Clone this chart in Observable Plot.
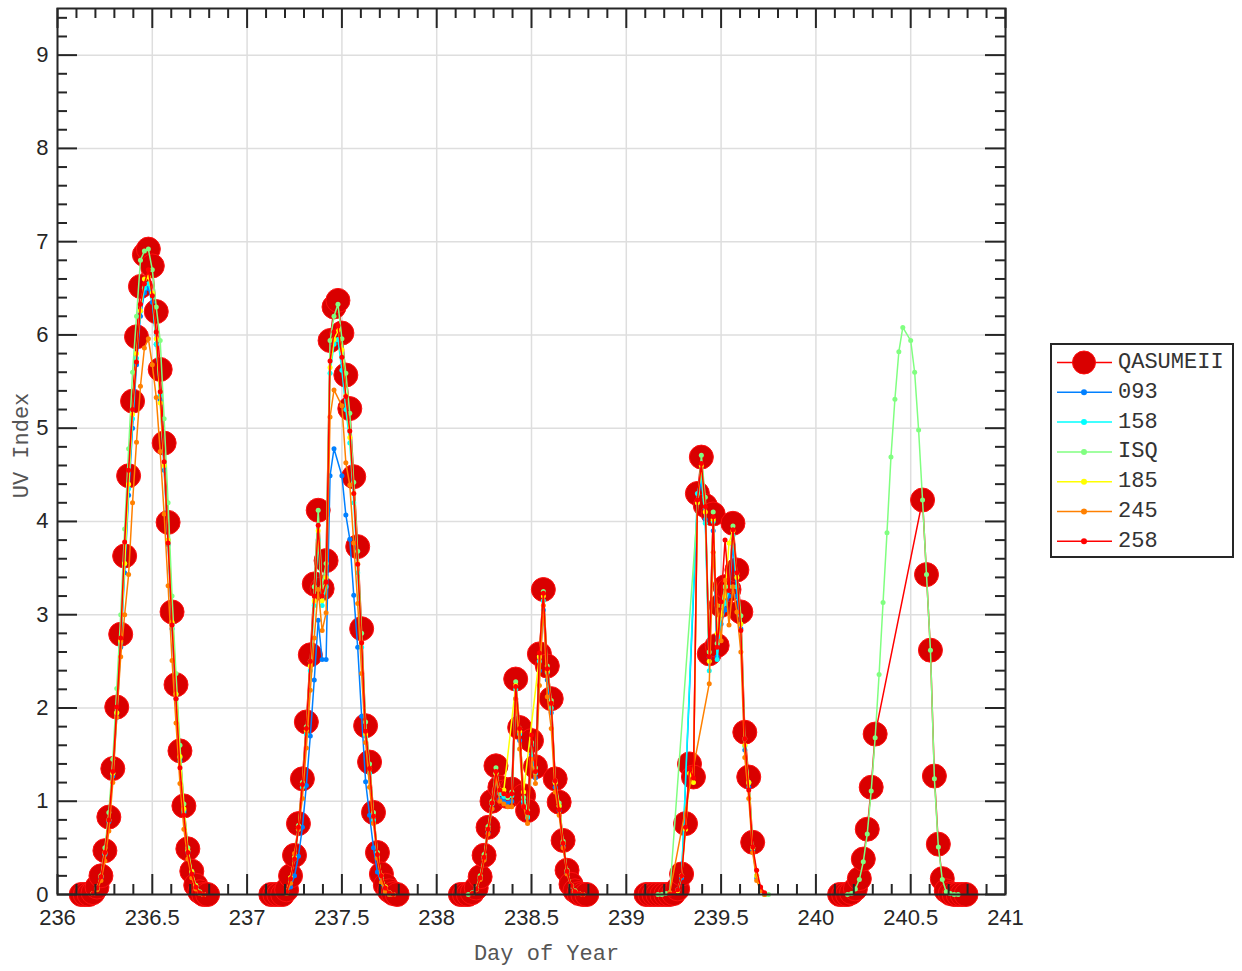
<!DOCTYPE html>
<html><head><meta charset="utf-8">
<script src="https://cdn.jsdelivr.net/npm/d3@7"></script>
<script src="https://cdn.jsdelivr.net/npm/@observablehq/plot@0.6"></script>
<style>
body{margin:0;background:#fff;overflow:hidden;}
#wrap{position:relative;width:1242px;height:971px;}
#legend{position:absolute;left:1050px;top:343px;}
</style></head><body><div id="wrap"><div id="chart"></div><div id="legend"></div></div>
<script>
const _ = null;
// half-hour sampling slots (time of day)
const slots = ["02:30","03:00","03:30","04:00","04:30","05:00","05:30","06:00","06:30","07:00","07:30","08:00","08:30","09:00","09:30","10:00","10:30","11:00","11:30","12:00","12:30","13:00","13:30","14:00","14:30","15:00","15:30","16:00","16:30","17:00","17:30","18:00","18:30","19:00"];
const days = [236, 237, 238, 239, 240];
const seriesNames = ["QASUMEII","093","158","ISQ","185","245","258"];
const seriesColors = ["#ff0000","#0080ff","#00ffff","#80ff80","#ffff00","#ff8000","#ff0000"];
const xTickLabels = [236,236.5,237,237.5,238,238.5,239,239.5,240,240.5,241];
const yTickLabels = [0,1,2,3,4,5,6,7,8,9];

// Day 236
const Q236     = [_,0,0,0,0.02, 0.08,0.2,0.47,0.83,1.35, 2.01,2.79,3.63,4.49,5.29, 5.98,6.52,6.86,6.92,6.74, 6.25,5.63,4.84,3.99,3.03, 2.25,1.54,0.95,0.49,0.25, 0.1,0.03,0,0];
const s093_236 = [_,_,_,_,0.01, 0.06,0.18,0.43,0.78,1.27, 1.9,2.65,3.45,4.28,5.0, 5.68,6.2,6.45,6.5,6.35, 5.9,5.3,4.55,3.75,2.85, 2.1,1.43,0.88,0.45,0.22, 0.08,0.02,0,_];
const s158_236 = [_,_,_,_,0.01, 0.07,0.19,0.44,0.8,1.3, 1.95,2.7,3.55,4.35,5.1, 5.75,6.25,6.5,6.55,6.4, 5.9,5.35,4.6,3.8,2.9, 2.15,1.47,0.9,0.47,0.23, 0.09,0.02,0,_];
const ISQ_236  = [_,_,_,_,0.01, 0.06,0.2,0.5,0.88,1.45, 2.21,3.0,3.92,4.78,5.6, 6.2,6.8,6.9,6.92,6.7, 6.3,5.94,5.1,4.2,3.2, 2.37,1.6,0.97,0.5,0.25, 0.1,0.03,0,_];
const s185_236 = [_,_,_,_,0.01, 0.07,0.19,0.45,0.8,1.3, 1.95,2.72,3.55,4.4,5.15, 5.8,6.26,6.6,6.62,6.45, 5.96,5.27,4.6,3.8,2.92, 2.15,1.48,0.92,0.47,0.24, 0.09,0.02,0,_];
const s245_236 = [_,_,_,_,0.01, 0.05,0.15,0.36,0.68,1.2, 1.9,2.55,3.0,3.43,4.2, 4.85,5.45,5.86,5.96,5.68, 5.33,4.75,4.08,3.31,2.51, 1.84,1.19,0.7,0.38,0.18, 0.06,0.01,0,_];
const s258_236 = [_,_,_,_,0.01, 0.07,0.19,0.45,0.8,1.32, 2.01,2.75,3.78,4.55,5.2, 5.71,6.33,6.55,6.7,6.42, 6.03,5.39,4.64,3.77,2.89, 2.1,1.36,0.85,0.45,0.22, 0.08,0.02,0,_];
// Day 237
const Q237     = [_,0,0,0,0, 0.05,0.2,0.42,0.76,1.24, 1.85,2.57,3.33,4.12,3.28, 3.58,5.94,6.3,6.37,6.02, 5.57,5.21,4.48,3.73,2.85, 1.81,1.42,0.88,0.45,0.22, 0.1,0.04,0.01,0];
const s093_237 = [_,_,_,_,_, 0.02,0.08,0.2,0.41,0.72, 1.17,1.7,2.3,2.94,2.52, 2.52,4.49,4.78,_,4.49, 4.07,3.81,3.21,2.65,1.91, 1.21,0.85,0.5,0.24,0.12, 0.02,0,_,_];
const s158_237 = [_,_,_,_,_, 0.03,0.17,0.38,0.7,1.15, 1.72,2.4,3.1,3.8,3.1, 3.3,5.59,5.9,5.95,5.62, 5.2,4.84,4.2,3.45,2.65, 1.7,1.3,0.8,0.4,0.19, 0.07,0.02,0,_];
const ISQ_237  = [_,_,_,_,_, 0.03,0.18,0.4,0.74,1.2, 1.8,2.5,3.3,4.12,3.3, 3.55,5.94,6.2,6.33,5.96, 5.59,5.16,4.42,3.68,2.8, 1.85,1.4,0.88,0.45,0.2, 0.08,0.02,0,_];
const s185_237 = [_,_,_,_,_, 0.03,0.18,0.39,0.72,1.18, 1.76,2.45,3.15,3.9,3.15, 3.4,5.65,5.95,6.05,5.84, 5.35,4.9,4.3,3.55,2.7, 1.72,1.35,0.84,0.43,0.2, 0.08,0.02,0,_];
const s245_237 = [_,_,_,_,_, 0.01,0.12,0.44,0.7,1.03, 1.57,2.19,2.75,3.27,2.83, 3.02,5.12,5.41,_,5.24, 4.63,4.39,3.77,3.12,2.37, 1.63,1.15,0.76,0.39,0.13, 0.03,0,_,_];
const s258_237 = [_,_,_,_,_, 0.03,0.17,0.38,0.72,1.18, 1.78,2.5,3.2,3.96,3.2, 3.35,5.72,6.03,6.1,5.76, 5.34,4.97,4.3,3.54,2.7, 1.75,1.35,0.84,0.43,0.2, 0.07,0.02,0,_];
// Day 238
const Q238     = [_,0,0,0,0.02, 0.07,0.19,0.42,0.72,1.0, 1.38,1.15,1.1,1.05,1.13, 2.31,1.79,1.06,0.9,1.65, 1.37,2.58,3.27,2.45,2.1, 1.24,0.99,0.58,0.26,0.11, 0.04,0.01,0,0];
const s093_238 = [_,_,_,_,0.01, 0.05,0.17,0.38,0.66,0.92, 1.25,1.02,1.0,0.98,1.0, 2.1,1.65,0.98,0.82,1.5, 1.25,2.4,3.05,2.3,1.95, 1.15,0.9,0.52,0.23,0.09, 0.03,0.01,0,_];
const s158_238 = [_,_,_,_,0.01, 0.06,0.18,0.4,0.7,0.97, 1.3,1.08,1.05,1.04,1.06, 2.2,1.72,1.0,0.83,1.6, 1.3,2.5,3.15,2.38,2.0, 1.2,0.95,0.55,0.25,0.1, 0.03,0.01,0,_];
const ISQ_238  = [_,_,_,0,0.02, 0.07,0.2,0.43,0.73,1.0, 1.36,1.12,1.08,1.04,1.1, 2.28,1.78,1.04,0.9,1.63, 1.36,2.55,3.25,2.45,2.08, 1.22,0.98,0.57,0.26,0.1, 0.04,0.01,0,_];
const s185_238 = [_,_,_,_,0.01, 0.06,0.18,0.4,0.7,0.98, 1.3,1.12,1.12,_,_, 2.24,1.75,1.1,_,_, _,2.55,3.2,2.4,2.05, 1.2,0.95,0.55,0.25,0.1, 0.03,0.01,0,_];
const s245_238 = [_,_,_,_,0.01, 0.05,0.16,0.37,0.65,0.92, 1.25,1.0,0.97,0.94,0.94, 2.1,1.56,0.95,0.76,1.45, 1.19,2.24,3.1,2.12,1.78, 1.1,0.85,0.5,0.22,0.09, 0.03,0.01,0,_];
const s258_238 = [_,_,_,_,0.01, 0.06,0.18,0.4,0.7,0.98, 1.32,1.12,1.08,1.06,1.08, 2.23,1.78,0.94,0.88,1.71, 1.32,2.59,3.23,2.42,2.05, 1.22,0.91,0.55,0.25,0.1, 0.03,0.01,0,_];
// Day 239
const Q239     = [0,0,0,0,0, 0,0,0.01,0.06,0.22, 0.76,1.4,1.26,4.3,4.69, 4.17,2.58,4.08,2.67,3.1, 3.3,3.27,3.98,3.48,3.03, 1.74,1.26,0.56,_,_, _,_,_,_];
const s093_239 = [_,_,_,_,_, _,_,_,0.04,0.18, _,_,_,4.2,4.45, 4.02,2.54,3.9,2.55,2.9, 3.05,3.2,3.75,3.2,2.85, 1.55,1.15,0.48,0.18,0.05, 0,_,_,_];
const s158_239 = [_,_,_,_,_, _,_,_,0.05,0.2, _,_,_,4.3,4.5, 3.98,2.4,4.0,2.52,3.0, 3.12,3.26,3.85,3.3,2.9, 1.59,1.2,0.5,0.2,0.05, 0,_,_,_];
const ISQ_239  = [_,_,_,0,0, 0.01,0.02,_,_,_, _,_,_,_,4.71, 4.26,2.6,4.1,2.69,3.1, 3.3,3.3,3.95,3.44,2.99, 1.67,1.2,0.5,0.2,0.06, 0.01,0,_,_];
const s185_239 = [_,_,_,_,_, _,_,_,0.04,0.2, 0.7,1.3,1.2,4.2,4.6, 4.1,2.5,4.02,2.8,3.0, 3.2,3.77,3.9,3.4,2.9, 1.6,1.2,0.5,0.2,0.05, 0,_,_,_];
const s245_239 = [_,_,_,_,_, _,0.02,_,_,_, _,_,_,_,_, _,2.26,3.67,3.1,2.72, 3.37,2.89,3.3,3.03,2.6, 1.47,1.03,0.45,0.15,0.04, 0,_,_,_];
const s258_239 = [_,_,_,_,_, _,0,0.01,0.05,0.2, 0.72,1.35,1.25,4.23,4.62, 4.16,2.55,4.05,2.65,3.14, 3.8,3.26,3.91,3.45,2.83, 1.67,1.12,0.51,0.26,0.08, 0.02,_,_,_];
// Day 240
const Q240     = [_,0,0,0,0.02, 0.06,0.17,0.38,0.7,1.15, 1.72,_,_,_,_, _,_,_,_,_, _,_,4.23,3.43,2.62, 1.27,0.54,0.17,0.04,0.01, 0,0,0,0];
const ISQ_240  = [_,_,_,0,0.01, 0.06,0.16,0.35,0.65,1.11, 1.68,2.36,3.13,3.88,4.69, 5.31,5.82,6.08,_,5.94, 5.6,4.98,4.23,3.43,2.62, 1.24,0.51,0.16,0.03,0.01, 0,0,_,_];

const perSeries = [
  [Q236, Q237, Q238, Q239, Q240],
  [s093_236, s093_237, s093_238, s093_239, null],
  [s158_236, s158_237, s158_238, s158_239, null],
  [ISQ_236, ISQ_237, ISQ_238, ISQ_239, ISQ_240],
  [s185_236, s185_237, s185_238, s185_239, null],
  [s245_236, s245_237, s245_238, s245_239, null],
  [s258_236, s258_237, s258_238, s258_239, null]
];

function slotFrac(s) { const [h, m] = s.split(":").map(Number); return (h * 60 + m) / 1440; }

const rows = [];
seriesNames.forEach((name, si) => {
  perSeries[si].forEach((arr, di) => {
    if (!arr) return;
    arr.forEach((v, i) => {
      if (v === null) return;
      rows.push({series: name, day: days[di], x: days[di] + slotFrac(slots[i]), y: v});
    });
  });
});

const W = 1242, H = 971, mL = 57, mR = 237, mT = 8, mB = 77;
const innerW = W - mL - mR, innerH = H - mT - mB;
const majorLen = 20, minorLen = 10;
const xMinor = d3.range(236, 241.001, 0.1).map(v => +v.toFixed(1)).filter(v => !xTickLabels.includes(v));
const yMinor = d3.range(0, 9.501, 0.2).map(v => +v.toFixed(1)).filter(v => !yTickLabels.includes(v));
const axisColor = "#262626";

const marks = [
  Plot.gridX(xTickLabels, {stroke: "#dedede", strokeOpacity: 1, strokeWidth: 1.5}),
  Plot.gridY(yTickLabels, {stroke: "#dedede", strokeOpacity: 1, strokeWidth: 1.5})
];
seriesNames.forEach((name, si) => {
  const data = rows.filter(r => r.series === name);
  const color = seriesColors[si];
  if (name === "QASUMEII") {
    marks.push(Plot.line(data, {x: "x", y: "y", z: "day", stroke: color, strokeWidth: 1.5}));
    marks.push(Plot.dot(data, {x: "x", y: "y", r: 12, fill: "#d90000", stroke: "#ff1010", strokeWidth: 1}));
  } else {
    marks.push(Plot.line(data, {x: "x", y: "y", z: "day", stroke: color, strokeWidth: 1.5}));
    marks.push(Plot.dot(data, {x: "x", y: "y", r: 2.5, fill: color, stroke: null}));
  }
});
marks.push(
  Plot.tickX(xTickLabels, {x: d => d, insetTop: innerH - majorLen, stroke: axisColor, strokeWidth: 2}),
  Plot.tickX(xTickLabels, {x: d => d, insetBottom: innerH - majorLen, stroke: axisColor, strokeWidth: 2}),
  Plot.tickX(xMinor, {x: d => d, insetTop: innerH - minorLen, stroke: axisColor, strokeWidth: 2}),
  Plot.tickX(xMinor, {x: d => d, insetBottom: innerH - minorLen, stroke: axisColor, strokeWidth: 2}),
  Plot.tickY(yTickLabels, {y: d => d, insetRight: innerW - majorLen, stroke: axisColor, strokeWidth: 2}),
  Plot.tickY(yTickLabels, {y: d => d, insetLeft: innerW - majorLen, stroke: axisColor, strokeWidth: 2}),
  Plot.tickY(yMinor, {y: d => d, insetRight: innerW - minorLen, stroke: axisColor, strokeWidth: 2}),
  Plot.tickY(yMinor, {y: d => d, insetLeft: innerW - minorLen, stroke: axisColor, strokeWidth: 2}),
  Plot.frame({stroke: axisColor, strokeWidth: 2}),
  Plot.axisX(xTickLabels, {tickSize: 0, tickPadding: 15, label: null, tickFormat: d => String(d), fontSize: 22, fill: axisColor}),
  Plot.axisY(yTickLabels, {tickSize: 0, tickPadding: 9, label: null, tickFormat: d => String(d), fontSize: 22, fill: axisColor}),
  Plot.text(["Day of Year"], {frameAnchor: "bottom", lineAnchor: "middle", textAnchor: "middle", dy: 58, dx: 15, fontFamily: "Liberation Mono, monospace", fontSize: 22, fill: "#555555"}),
  Plot.text(["UV Index"], {frameAnchor: "left", lineAnchor: "middle", textAnchor: "middle", dx: -37, dy: -6, rotate: -90, fontFamily: "Liberation Mono, monospace", fontSize: 22, fill: "#555555"})
);

const chart = Plot.plot({
  width: W, height: H,
  marginLeft: mL, marginRight: mR, marginTop: mT, marginBottom: mB,
  x: {domain: [236, 241]},
  y: {domain: [0, 9.5]},
  style: {fontFamily: "Liberation Sans, Arial, sans-serif", fontSize: "22px", color: axisColor, background: "#ffffff"},
  marks
});
document.getElementById("chart").appendChild(chart);

// Legend
const lw = 184, lh = 215;
const lsvg = d3.select("#legend").append("svg").attr("width", lw).attr("height", lh);
lsvg.append("rect").attr("x", 1).attr("y", 1).attr("width", lw - 2).attr("height", lh - 2)
  .attr("fill", "#fff").attr("stroke", axisColor).attr("stroke-width", 2);
seriesNames.forEach((name, i) => {
  const y = 19.5 + i * 29.8;
  const g = lsvg.append("g");
  g.append("line").attr("x1", 7).attr("x2", 62).attr("y1", y).attr("y2", y)
    .attr("stroke", seriesColors[i]).attr("stroke-width", 1.5);
  if (name === "QASUMEII") {
    g.append("circle").attr("cx", 34).attr("cy", y).attr("r", 11.5).attr("fill", "#d90000").attr("stroke", "#ff1010");
  } else {
    g.append("circle").attr("cx", 34).attr("cy", y).attr("r", 3).attr("fill", seriesColors[i]);
  }
  g.append("text").attr("x", 68).attr("y", y).attr("dominant-baseline", "central")
    .attr("font-family", "Liberation Mono, monospace").attr("font-size", 22).attr("fill", "#333333").text(name);
});
</script>
</body></html>
